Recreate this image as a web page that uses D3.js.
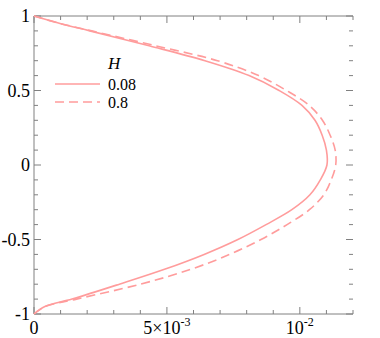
<!DOCTYPE html>
<html>
<head>
<meta charset="utf-8">
<script src="https://cdn.jsdelivr.net/npm/d3@7"></script>
<style>
  body { margin: 0; background: #fff; }
  text { font-family: "Liberation Serif", "Times New Roman", serif; fill: #000; }
</style>
</head>
<body>
<svg id="chart" width="380" height="338"></svg>
<script>
// y positions across the channel and the profile for each H
var yPos     = [1.0, 0.95, 0.9, 0.8, 0.7, 0.6, 0.5, 0.4, 0.3, 0.2, 0.1, 0.0, -0.1, -0.2, -0.3, -0.4, -0.5, -0.6, -0.7, -0.8, -0.9, -0.95, -1.0];
var uSmallH  = [0, 0.00098, 0.0021, 0.00433, 0.00643, 0.00809, 0.00922, 0.01008, 0.01057, 0.01084, 0.01100, 0.01102, 0.01077, 0.01038, 0.0097, 0.00873, 0.00767, 0.0064, 0.00491, 0.00321, 0.00143, 0.00041, 0];
var uLargeH  = [0, 0.00098, 0.00217, 0.00458, 0.0069, 0.00845, 0.0095, 0.01035, 0.01085, 0.01114, 0.01133, 0.01135, 0.01118, 0.01090, 0.01036, 0.00952, 0.00854, 0.00736, 0.0059, 0.004, 0.0016, 0.00042, 0];
var seriesNames = ["0.08", "0.8"];

var svg = d3.select("#chart"),
    margin = {top: 16, right: 27, bottom: 24, left: 34},
    width = 380 - margin.left - margin.right,
    height = 338 - margin.top - margin.bottom,
    g = svg.append("g").attr("transform", "translate(" + margin.left + "," + margin.top + ")");

var x = d3.scaleLinear().domain([0, 0.012]).range([0, width]);
var y = d3.scaleLinear().domain([-1, 1]).range([height, 0]);

var axisColor = "#808080",
    lineColor = "#ff9c9c";

var xMinor = d3.range(0, 0.0120001, 0.001),
    yMinor = d3.range(-1, 1.0001, 0.1);

function isMajor(v, step) { return Math.abs(v / step - Math.round(v / step)) < 1e-6; }

// frame: left, top, bottom (no right spine)
g.append("line").attr("x1", 0).attr("x2", 0).attr("y1", 0).attr("y2", height);
g.append("line").attr("x1", 0).attr("x2", width).attr("y1", 0).attr("y2", 0);
g.append("line").attr("x1", 0).attr("x2", width).attr("y1", height).attr("y2", height);
g.selectAll("line").attr("stroke", axisColor).attr("stroke-width", 1);

var ticks = g.append("g").attr("stroke", axisColor).attr("stroke-width", 1);

xMinor.forEach(function(v) {
  var len = isMajor(v, 0.005) ? 7 : 4;
  ticks.append("line").attr("x1", x(v)).attr("x2", x(v)).attr("y1", height).attr("y2", height - len);
  ticks.append("line").attr("x1", x(v)).attr("x2", x(v)).attr("y1", 0).attr("y2", len);
});
yMinor.forEach(function(v) {
  var len = isMajor(v, 0.5) ? 7 : 4;
  ticks.append("line").attr("x1", 0).attr("x2", len).attr("y1", y(v)).attr("y2", y(v));
  ticks.append("line").attr("x1", width).attr("x2", width - len).attr("y1", y(v)).attr("y2", y(v));
});

// y tick labels
var yLabels = [1, 0.5, 0, -0.5, -1];
g.selectAll(".ylab")
  .data(yLabels)
  .enter().append("text")
    .attr("class", "ylab")
    .attr("x", -4)
    .attr("y", function(d) { return y(d); })
    .attr("dy", "0.35em")
    .attr("text-anchor", "end")
    .style("font-size", "18px")
    .text(function(d) { return String(d); });

// x tick labels
var xLabels = [0, 0.005, 0.01];
var xLabelParts = [["0", ""], ["5\u00d710", "-3"], ["10", "-2"]];
xLabels.forEach(function(v, i) {
  var t = g.append("text")
    .attr("x", x(v))
    .attr("y", height + 20)
    .attr("text-anchor", "middle")
    .style("font-size", "18px");
  t.append("tspan").text(xLabelParts[i][0]);
  if (xLabelParts[i][1]) {
    t.append("tspan").attr("dy", -8).style("font-size", "12px").text(xLabelParts[i][1]);
  }
});

// profiles
var series = [uSmallH, uLargeH];
var line = d3.line()
  .x(function(d) { return x(d[0]); })
  .y(function(d) { return y(d[1]); })
  .curve(d3.curveCatmullRom.alpha(0.5));

series.forEach(function(vals, i) {
  g.append("path")
    .datum(d3.zip(vals, yPos))
    .attr("fill", "none")
    .attr("stroke", lineColor)
    .attr("stroke-width", 1.6)
    .attr("stroke-dasharray", i === 1 ? "9,5" : null)
    .attr("d", line);
});

// legend
var legend = svg.append("g").attr("transform", "translate(55,0)");
legend.append("text")
  .attr("x", 53).attr("y", 69)
  .style("font-size", "17px").style("font-style", "italic")
  .text("H");
seriesNames.forEach(function(name, i) {
  var ly = 84 + i * 18;
  legend.append("line")
    .attr("x1", 0).attr("x2", 45).attr("y1", ly).attr("y2", ly)
    .attr("stroke", lineColor).attr("stroke-width", 1.6)
    .attr("stroke-dasharray", i === 1 ? "9,5" : null);
  legend.append("text")
    .attr("x", 53).attr("y", ly + 6)
    .style("font-size", "16px")
    .text(name);
});
</script>
</body>
</html>
